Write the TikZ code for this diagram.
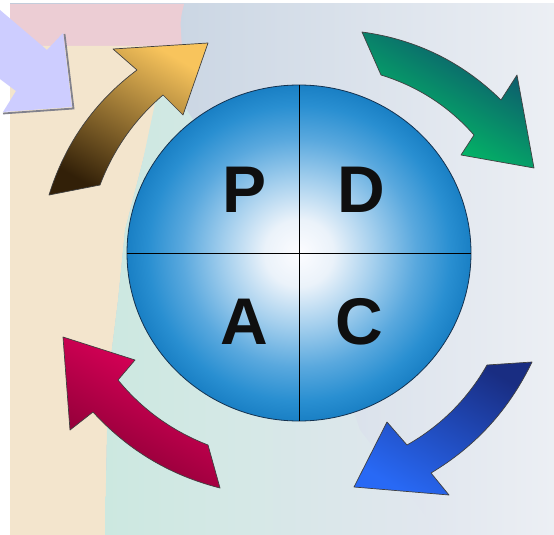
\documentclass[tikz,border=0pt]{standalone}
\usepackage{fontspec}
\setmainfont{Liberation Sans}
\usetikzlibrary{shapes.geometric}

\definecolor{skyc}{RGB}{188,203,220}
\definecolor{mistc}{RGB}{236,239,244}
\definecolor{fadec}{RGB}{226,231,239}
\definecolor{pinkc}{RGB}{236,205,212}
\definecolor{sandc}{RGB}{243,229,205}
\definecolor{mintc}{RGB}{204,232,224}
\definecolor{lavc}{RGB}{205,205,255}
\definecolor{shadowc}{RGB}{130,130,140}
\definecolor{golddark}{RGB}{50,32,8}
\definecolor{goldlight}{RGB}{248,196,92}
\definecolor{greendark}{RGB}{15,75,110}
\definecolor{greenlight}{RGB}{0,210,100}
\definecolor{bluedark}{RGB}{25,45,130}
\definecolor{bluelight}{RGB}{40,105,245}
\definecolor{reddark}{RGB}{130,0,50}
\definecolor{redlight}{RGB}{235,0,95}
\definecolor{rimc}{RGB}{20,50,80}
\definecolor{inkc}{RGB}{15,15,15}

% sphere look for the cycle disc
\pgfdeclareradialshading{ballblue}{\pgfpoint{0bp}{0bp}}{%
  rgb(0bp)=(0.99,0.99,1);
  rgb(5bp)=(0.92,0.95,0.98);
  rgb(11bp)=(0.64,0.81,0.93);
  rgb(17bp)=(0.35,0.66,0.87);
  rgb(22bp)=(0.16,0.56,0.82);
  rgb(25bp)=(0.10,0.50,0.77);
  rgb(50bp)=(0.10,0.50,0.77)}

\tikzset{
  arrowbody/.style={draw=black!75, line width=0.7pt, line join=round},
  letter/.style={font=\bfseries\fontsize{66}{66}\selectfont, text=inkc, inner sep=0pt},
  crossline/.style={draw=black, line width=0.9pt}
}

\begin{document}
\begin{tikzpicture}[x=1pt, y=-1pt]
\useasboundingbox (0,0) rectangle (554,535);
\fill[white] (0,0) rectangle (554,535);

% backdrop panels
\shade[left color=skyc, right color=mistc] (10,4) rectangle (554,535);
\fill[pinkc] (10,4) -- (184,4) .. controls (180,20) .. (182,47) -- (10,47) -- cycle;
\fill[sandc] (10,46) -- (180,46) -- (158,100) -- (143,160) -- (125,230)
  -- (118,300) -- (108,380) -- (105,535) -- (10,535) -- cycle;
\shade[left color=mintc, middle color=mintc!85!fadec, right color=fadec]
  (160,80) -- (180,100) -- (200,130) -- (299,253) -- (360,430) -- (440,535)
  -- (105,535) -- (108,380) -- (118,300) -- (125,230) -- (143,160) -- cycle;

% lavender pointer in the corner
\draw[shadowc, line width=1.8pt] (64.5,34) -- (73.5,108.5) -- (3,113.5);
\fill[lavc] (0,10) -- (47,50) -- (63,33) -- (72,107) -- (3,112) -- (16,91) -- (0,79) -- cycle;

% the PDCA disc
\node[ellipse, minimum width=344pt, minimum height=336pt, inner sep=0pt,
      draw=rimc, line width=0.8pt, shade, shading=ballblue] (ball) at (299,253) {};
\draw[crossline] (ball.west) -- (ball.east);
\draw[crossline] (ball.north) -- (ball.south);

\node[letter] (plan)  at (245,190) {P};
\node[letter] (do)    at (361,190) {D};
\node[letter] (act)   at (244,322) {A};
\node[letter] (check) at (359,322) {C};

% curved cycle arrows
\path[arrowbody, bottom color=golddark, top color=goldlight, shading angle=-30]
  (49,195) .. controls (65,143.7) and (94.3,102) .. (137,70)
  -- (113,49) -- (208,43) -- (183,115) -- (163,95)
  .. controls (134.3,119.7) and (113.3,149.7) .. (100,185) -- cycle;

\path[arrowbody, left color=greendark, right color=greenlight, shading angle=-30]
  (362,32) .. controls (416,39.3) and (462.3,62) .. (501,100)
  -- (517,75) -- (534,168) -- (461,155) -- (474,135)
  .. controls (448.7,106.3) and (417.7,86.3) .. (381,75) -- cycle;

\path[arrowbody, top color=bluedark, bottom color=bluelight, shading angle=-30]
  (532,362) .. controls (509.3,409.3) and (475.7,446.3) .. (431,473)
  -- (449,495) -- (354,487) -- (387,422) -- (407,445)
  .. controls (441,425.7) and (467.7,399) .. (487,365) -- cycle;

\path[arrowbody, left color=redlight, right color=reddark, shading angle=-30]
  (220,488) .. controls (170,475.3) and (127.7,450) .. (93,412)
  -- (70,430) -- (63,337) -- (135,360) -- (118,380)
  .. controls (142,409.3) and (172,431) .. (208,445) -- cycle;
\end{tikzpicture}
\end{document}
